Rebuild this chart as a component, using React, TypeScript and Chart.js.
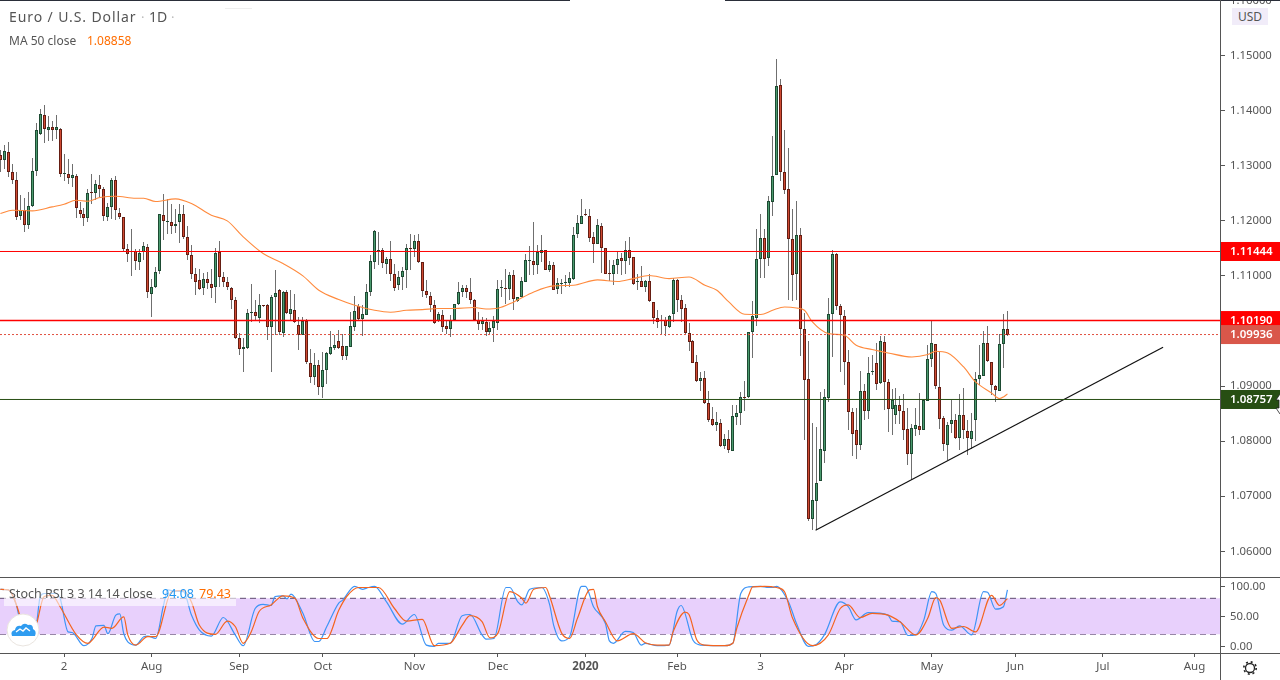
import { useEffect, useRef } from 'react'
import { Chart, registerables } from 'chart.js'

Chart.register(...registerables)

const FONT = '"Noto Sans", sans-serif'
const TEXT = '#555'

// daily candles, EUR/USD
const opens = [
  1.13192,1.13107,1.13246,1.12895,1.12750,1.12090,1.12205,1.11933,1.12272,1.12913,
  1.13585,1.13930,1.13652,1.13712,1.13652,1.13676,1.12859,1.12859,1.12780,1.12823,
  1.12205,1.12133,1.12060,1.12532,1.12514,1.12659,1.12587,1.12072,1.12260,1.12750,
  1.12151,1.12078,1.11491,1.11437,1.11455,1.11255,1.11443,1.11534,1.10674,1.10801,
  1.11098,1.12115,1.11994,1.11988,1.11909,1.11988,1.12133,1.11715,1.11388,1.11043,
  1.10934,1.10789,1.10953,1.10862,1.10801,1.11437,1.10983,1.10898,1.10789,1.10571,
  1.09881,1.09682,1.09694,1.10329,1.10353,1.10238,1.10481,1.10481,1.10075,1.10620,
  1.10753,1.09972,1.10717,1.10311,1.10390,1.10117,1.09936,1.10178,1.09427,1.09167,
  1.09391,1.08986,1.09300,1.09585,1.09694,1.09827,1.09724,1.09548,1.09712,1.10075,
  1.10450,1.10220,1.10293,1.10710,1.11255,1.11448,1.11479,1.11219,1.11315,1.11043,
  1.10837,1.10982,1.11110,1.11515,1.11491,1.11642,1.11261,1.10734,1.10644,1.10480,
  1.10178,1.10299,1.10087,1.10038,1.10196,1.10498,1.10710,1.10777,1.10716,1.10571,
  1.10196,1.10129,1.10172,1.09984,1.10063,1.10153,1.10777,1.10789,1.10765,1.11025,
  1.10541,1.10619,1.10892,1.11273,1.11279,1.11200,1.11418,1.11479,1.11104,1.11206,
  1.10765,1.10855,1.10874,1.10874,1.10952,1.11763,1.11951,1.12120,1.12096,1.11715,
  1.11582,1.11914,1.11515,1.11049,1.11037,1.11200,1.11333,1.11273,1.11479,1.11352,
  1.10892,1.10916,1.10801,1.10916,1.10535,1.10244,1.10190,1.10208,1.10075,1.10311,
  1.10922,1.10558,1.10426,1.09972,1.09827,1.09446,1.09093,1.09155,1.08701,1.08411,
  1.08295,1.08338,1.07913,1.08047,1.07823,1.08440,1.08520,1.08810,1.08803,1.09983,
  1.10244,1.11315,1.11697,1.11326,1.12343,1.12841,1.14462,1.12895,1.12586,1.11679,
  1.11043,1.11751,1.10045,1.09137,1.06588,1.06915,1.07278,1.07823,1.08785,1.10317,
  1.11394,1.10450,1.10281,1.09446,1.08538,1.08211,1.07931,1.08919,1.08549,1.09257,
  1.09427,1.09057,1.09809,1.09082,1.08585,1.08483,1.08665,1.08556,1.08229,1.07768,
  1.08222,1.08284,1.08204,1.08730,1.09500,1.09772,1.08992,1.08429,1.07931,1.08313,
  1.08393,1.08059,1.08483,1.08193,1.08040,1.08393,1.09137,1.09191,1.09790,1.09446,
  1.09010,1.08912,1.09772,1.10045,
]
const closes = [
  1.13113,1.13264,1.12895,1.12750,1.12072,1.12205,1.11933,1.12278,1.12913,1.13658,
  1.13948,1.13676,1.13712,1.13652,1.13712,1.12859,1.12877,1.12780,1.12841,1.12242,
  1.12133,1.12060,1.12514,1.12508,1.12677,1.12587,1.12090,1.12260,1.12750,1.12205,
  1.12072,1.11497,1.11407,1.11455,1.11273,1.11425,1.11552,1.10711,1.10807,1.11080,
  1.12133,1.12006,1.12006,1.11909,1.11951,1.12133,1.11715,1.11388,1.11043,1.10898,
  1.10771,1.10953,1.10880,1.10789,1.11425,1.10983,1.10898,1.10801,1.10571,1.09881,
  1.09682,1.09706,1.10335,1.10341,1.10275,1.10481,1.10469,1.10075,1.10626,1.10698,
  1.09984,1.10717,1.10335,1.10408,1.10172,1.09936,1.10178,1.09440,1.09167,1.09391,
  1.08986,1.09300,1.09609,1.09718,1.09754,1.09694,1.09548,1.09724,1.10087,1.10359,
  1.10220,1.10305,1.10716,1.11267,1.11812,1.11479,1.11237,1.11315,1.11043,1.10783,
  1.10982,1.11097,1.11515,1.11491,1.11630,1.11255,1.10728,1.10650,1.10474,1.10153,
  1.10317,1.10081,1.10038,1.10208,1.10498,1.10716,1.10777,1.10710,1.10559,1.10196,
  1.10129,1.10190,1.09984,1.10063,1.10190,1.10771,1.10801,1.10765,1.11025,1.10583,
  1.10625,1.10916,1.11285,1.11297,1.11200,1.11430,1.11479,1.11104,1.11194,1.10746,
  1.10880,1.10867,1.10886,1.10970,1.11751,1.11969,1.12096,1.12108,1.11697,1.11582,
  1.11933,1.11515,1.11043,1.11037,1.11206,1.11315,1.11273,1.11479,1.11327,1.10861,
  1.10916,1.10807,1.10916,1.10553,1.10238,1.10165,1.10202,1.10093,1.10280,1.10934,
  1.10571,1.10401,1.09965,1.09801,1.09427,1.09093,1.09155,1.08694,1.08385,1.08295,
  1.08356,1.07913,1.08047,1.07841,1.08465,1.08520,1.08810,1.08803,1.09990,1.10268,
  1.11315,1.11697,1.11308,1.12356,1.12822,1.14444,1.12888,1.12561,1.11671,1.11025,
  1.11751,1.10045,1.09119,1.06588,1.06940,1.07249,1.07866,1.08810,1.10317,1.11394,
  1.10455,1.10292,1.09438,1.08531,1.08131,1.07931,1.08919,1.08549,1.09246,1.09282,
  1.09039,1.09827,1.09075,1.08585,1.08743,1.08665,1.08549,1.08198,1.07768,1.08247,
  1.08302,1.08204,1.08743,1.09500,1.09790,1.09003,1.08411,1.07950,1.08302,1.08393,
  1.08059,1.08483,1.08204,1.08059,1.08193,1.09137,1.09210,1.09790,1.09457,1.09021,
  1.08925,1.09772,1.10045,1.09936,
]
const highs = [
  1.13295,1.13373,1.13434,1.13028,1.12883,1.12466,1.12423,1.12532,1.13150,1.13779,
  1.14039,1.14100,1.13900,1.13809,1.13918,1.13688,1.13210,1.13119,1.13028,1.12859,
  1.12339,1.12242,1.12587,1.12847,1.12750,1.12829,1.12617,1.12332,1.12786,1.12811,
  1.12242,1.12078,1.11588,1.11860,1.11497,1.11497,1.11618,1.11576,1.10953,1.11164,
  1.12133,1.12484,1.12405,1.12314,1.12224,1.12314,1.12284,1.11903,1.11570,1.11146,
  1.11134,1.11056,1.11074,1.11134,1.11515,1.11630,1.11074,1.10983,1.10801,1.10620,
  1.09972,1.09881,1.10396,1.10850,1.10571,1.10680,1.10481,1.10499,1.10650,1.11104,
  1.10771,1.10723,1.10741,1.10741,1.10680,1.10257,1.10257,1.10214,1.09682,1.09609,
  1.09482,1.09621,1.09621,1.09996,1.09924,1.10015,1.09954,1.09724,1.10347,1.10631,
  1.10498,1.10468,1.10861,1.11388,1.11830,1.11793,1.11515,1.11346,1.11630,1.11212,
  1.11085,1.11164,1.11588,1.11757,1.11739,1.11757,1.11261,1.10922,1.10710,1.10559,
  1.10347,1.10377,1.10196,1.10286,1.10498,1.10892,1.10831,1.10843,1.10970,1.10589,
  1.10347,1.10256,1.10244,1.10165,1.10268,1.10922,1.10934,1.11134,1.11073,1.11104,
  1.10625,1.10982,1.11406,1.11539,1.11987,1.11557,1.11739,1.11479,1.11273,1.11255,
  1.10964,1.10952,1.11013,1.11073,1.11890,1.12102,1.12393,1.12211,1.12223,1.11799,
  1.12042,1.11969,1.11515,1.11285,1.11285,1.11455,1.11424,1.11630,1.11709,1.11352,
  1.11043,1.11176,1.10934,1.11043,1.10535,1.10377,1.10286,1.10256,1.10286,1.10970,
  1.10952,1.10649,1.10499,1.10146,1.09832,1.09573,1.09257,1.09270,1.08906,1.08621,
  1.08531,1.08411,1.08138,1.08211,1.08652,1.08652,1.08894,1.09093,1.09990,1.10540,
  1.11848,1.12120,1.11860,1.12447,1.13536,1.14934,1.14571,1.13645,1.13318,1.12211,
  1.12356,1.11878,1.10322,1.09814,1.08325,1.08258,1.08894,1.08943,1.10595,1.11466,
  1.11417,1.10499,1.10377,1.09651,1.08598,1.08598,1.09270,1.09033,1.09529,1.09560,
  1.09783,1.09905,1.09905,1.09124,1.08943,1.08966,1.08816,1.08865,1.08611,1.08307,
  1.08611,1.08883,1.08756,1.09742,1.10195,1.09772,1.09620,1.08453,1.08349,1.08756,
  1.08502,1.08865,1.08974,1.08380,1.08520,1.09257,1.09742,1.10001,1.10086,1.09446,
  1.09021,1.09954,1.10304,1.10364,
]
const lows = [
  1.12889,1.12950,1.12798,1.12665,1.12012,1.12012,1.11800,1.11860,1.12254,1.12817,
  1.13567,1.13416,1.13452,1.13452,1.13482,1.12798,1.12726,1.12665,1.12617,1.12060,
  1.12054,1.11909,1.11981,1.12314,1.12375,1.12435,1.11994,1.11994,1.12042,1.12024,
  1.12042,1.11455,1.11255,1.11001,1.11104,1.11104,1.11298,1.10602,1.10257,1.10789,
  1.11043,1.11649,1.11758,1.11770,1.11782,1.11600,1.11679,1.11298,1.10953,1.10650,
  1.10741,1.10650,1.10771,1.10608,1.10511,1.10801,1.10801,1.10741,1.10408,1.09863,
  1.09561,1.09258,1.09670,1.10166,1.10184,1.10154,1.10438,1.09833,1.09258,1.09924,
  1.09924,1.09894,1.10317,1.10196,1.10154,1.09651,1.09924,1.09409,1.09064,1.09016,
  1.08834,1.08786,1.09046,1.09561,1.09651,1.09682,1.09469,1.09469,1.09712,1.10002,
  1.10196,1.09911,1.10293,1.10631,1.11122,1.11194,1.11152,1.11043,1.10910,1.10728,
  1.10740,1.10740,1.10783,1.11104,1.11346,1.11237,1.10619,1.10607,1.10347,1.10135,
  1.10159,1.09984,1.09942,1.09893,1.10196,1.10468,1.10619,1.10607,1.10498,1.10184,
  1.10014,1.10014,1.09911,1.09954,1.09802,1.10026,1.10619,1.10498,1.10559,1.10377,
  1.10529,1.10619,1.10892,1.11013,1.11013,1.11043,1.11255,1.11104,1.11073,1.10740,
  1.10680,1.10668,1.10801,1.10801,1.10922,1.11691,1.11951,1.12096,1.11618,1.11237,
  1.11576,1.11055,1.11031,1.10910,1.10831,1.11043,1.11013,1.11043,1.11194,1.10843,
  1.10753,1.10801,1.10710,1.10529,1.10135,1.10063,1.09954,1.09911,1.10056,1.10165,
  1.10347,1.10159,1.09954,1.09633,1.09420,1.09075,1.08912,1.08670,1.08349,1.08271,
  1.08186,1.07895,1.07866,1.07786,1.07823,1.08289,1.08289,1.08549,1.08785,1.09511,
  1.10087,1.10958,1.10958,1.11176,1.12089,1.12841,1.12724,1.12483,1.10558,1.10540,
  1.10558,1.09547,1.08017,1.06546,1.06383,1.06383,1.07278,1.07605,1.08712,1.09529,
  1.10377,1.09257,1.09015,1.08198,1.07732,1.07672,1.07835,1.08380,1.08398,1.09197,
  1.08937,1.09046,1.08561,1.08168,1.08108,1.08320,1.08320,1.08017,1.07563,1.07291,
  1.08095,1.08108,1.08204,1.08730,1.09347,1.08955,1.08229,1.07823,1.07654,1.08149,
  1.08048,1.07835,1.08048,1.07744,1.07866,1.08004,1.09015,1.09179,1.09446,1.08834,
  1.08712,1.08912,1.09329,1.09910,
]

const maIndex = [
  0,3,8,13,16,19,22,25,29,34,36,39,44,48,53,57,61,66,71,76,80,85,89,94,98,102,106,110,114,119,122,125,129,134,
  139,144,150,155,159,163,168,173,177,180,183,187,191,194,197,200,202,204,208,212,215,219,223,229,233,235,238,
  242,245,249,251,252,253,
]
const maValues = [
  1.12133,1.12193,1.12181,1.12254,1.12302,1.12375,1.12357,1.12423,1.12447,1.12411,1.12411,1.12351,1.12399,1.12314,
  1.12102,1.12000,1.11709,1.11406,1.11225,1.11001,1.10741,1.10571,1.10468,1.10377,1.10341,1.10377,1.10389,1.10408,
  1.10408,1.10426,1.10401,1.10414,1.10529,1.10710,1.10819,1.10831,1.10928,1.10898,1.10952,1.11007,1.10952,1.10981,
  1.10831,1.10740,1.10528,1.10304,1.10299,1.10377,1.10437,1.10419,1.10377,1.10164,1.09954,1.09923,1.09742,1.09663,
  1.09602,1.09529,1.09573,1.09633,1.09602,1.09347,1.09075,1.08876,1.08774,1.08803,1.08858,
]

// Stoch RSI
const kIndex = [
  0,2,4,5,7,9,10,11,14,15,17,18,21,23,24,26,27,29,30,31,33,34,36,37,39,41,42,44,46,48,50,53,56,59,61,64,66,68,69,
  71,72,73,76,79,80,82,85,86,89,91,92,94,97,101,104,107,109,110,113,116,118,121,122,124,127,128,130,131,133,136,
  138,139,141,143,146,147,149,152,153,154,157,159,161,162,165,168,170,171,174,176,182,184,186,188,191,193,194,195,
  198,200,203,205,207,211,213,215,218,223,224,226,228,230,232,234,235,237,239,241,244,247,248,250,252,253,
]
const kValues = [
  95,94,69,41,20,35,83,88,88,80,24,23,1,13,34,35,21,52,54,21,3,2,16,17,13,69,94,92,91,52,27,17,48,19,1,63,70,68,83,
  84,79,87,55,8,8,33,72,77,100,95,97,100,74,37,53,2,0,5,5,51,53,19,12,13,98,98,74,69,95,98,
  69,35,9,16,100,100,66,38,9,5,25,23,2,5,1,2,58,68,10,2,1,5,88,99,100,98,98,100,
  74,38,0,3,19,74,66,44,56,52,42,41,18,19,44,91,88,35,27,34,19,91,90,62,66,94.08,
]
const dIndex = [
  0,2,5,6,8,9,11,13,15,19,22,23,26,28,31,32,34,37,39,43,46,48,50,54,57,59,61,63,65,68,71,74,76,80,82,85,87,90,95,
  99,102,106,109,113,116,118,121,123,125,128,131,132,134,137,138,141,143,145,148,149,150,152,155,159,162,165,168,
  169,172,173,175,177,182,184,185,188,189,192,195,197,199,204,208,211,213,216,219,223,226,230,233,235,236,239,242,
  245,249,251,253,
]
const dValues = [
  95,94,49,21,17,35,83,85,66,20,5,10,32,30,49,19,2,16,16,91,93,74,35,20,42,33,5,24,58,69,84,80,47,13,13,60,83,98,98,
  63,42,45,1,5,35,51,41,14,22,91,80,72,95,98,83,22,13,47,94,95,66,41,9,21,6,2,2,
  24,57,53,10,2,1,5,30,85,99,100,98,91,47,1,19,63,69,48,55,52,41,19,47,81,77,30,33,
  24,85,68,79.43,
]

const priceTicks = [1.06,1.07,1.08,1.09,1.10,1.11,1.12,1.13,1.14,1.15,1.16]
const stochTicks = [0,50,100]

// bar numbers where a month starts on the time axis (future ones past the last candle)
const timeTicks = [16,38,60,81,104,125,147,170,191,212,234,255,277,300]
const timeLabels = ['2','Aug','Sep','Oct','Nov','Dec','2020','Feb','3','Apr','May','Jun','Jul','Aug']

const resistance = 1.11444
const pivot = 1.1019
const support = 1.08757
const lastPrice = 1.09936
const trendIndex = [204.8, 292.1]
const trendValues = [1.06383, 1.09705]
const bandHigh = 80
const bandLow = 20

const X_MIN = -0.1
const X_MAX = 306.4

const flat = (y: number) => [{ x: X_MIN, y }, { x: X_MAX, y }]
const pairs = (xs: number[], ys: number[]) => xs.map((x, i) => ({ x, y: ys[i] }))

// keep the candles on whole pixels, otherwise the 1px wicks go blurry
const snapBars = {
  id: 'snapBars',
  beforeDatasetsDraw(chart: any) {
    chart.data.datasets.forEach((ds: any, i: number) => {
      if (ds.type !== 'bar') return
      chart.getDatasetMeta(i).data.forEach((el: any) => {
        el.x = Math.floor(el.x) + 0.5
        el.y = Math.round(el.y)
        el.base = Math.round(el.base)
        if (el.y === el.base) el.base += 1
      })
    })
  },
}

const priceTags = {
  id: 'priceTags',
  afterDraw(chart: any) {
    const { ctx, scales, chartArea } = chart
    const tags = [
      [resistance, '#ff0000'],
      [pivot, '#ff0000'],
      [lastPrice, '#d9574a'],
      [support, '#274e13'],
    ] as [number, string][]
    ctx.save()
    ctx.font = `600 11.5px ${FONT}`
    ctx.textBaseline = 'middle'
    ctx.textAlign = 'left'
    tags.forEach(([value, color]) => {
      const y = scales.y.getPixelForValue(value)
      ctx.fillStyle = color
      ctx.fillRect(chartArea.right + 1, y - 9.5, 60, 19)
      ctx.fillStyle = '#fff'
      ctx.fillText(value.toFixed(5), chartArea.right + 10, y)
    })
    ctx.restore()
  },
}

const axisTicks = {
  color: TEXT,
  padding: 5,
  autoSkip: false,
  maxRotation: 0,
  font: { family: FONT, size: 11.3 },
}

// no room reserved for half-labels at the pane edges, the panes run edge to edge
const noPadding = (scale: any) => {
  scale.paddingTop = 0
  scale.paddingBottom = 0
  scale.paddingLeft = 0
  scale.paddingRight = 0
}

function lineDataset(data: any[], color: string, width: number, extra: any = {}) {
  return {
    type: 'line',
    data,
    borderColor: color,
    borderWidth: width,
    pointRadius: 0,
    fill: false,
    ...extra,
  }
}

export default function App() {
  const priceRef = useRef<HTMLCanvasElement>(null)
  const stochRef = useRef<HTMLCanvasElement>(null)

  useEffect(() => {
    const up = closes.map((c, i) => c >= opens[i])

    const priceChart = new Chart(priceRef.current!, {
      type: 'bar',
      data: {
        datasets: [
          lineDataset(flat(resistance), '#ff0000', 1, { order: 1 }),
          lineDataset(flat(pivot), '#ff0000', 1.4, { order: 1 }),
          lineDataset(flat(support), '#274e13', 1, { order: 1 }),
          lineDataset(flat(lastPrice), '#e0503f', 1, { order: 1, borderDash: [2, 2] }),
          lineDataset(pairs(trendIndex, trendValues), '#111', 1.2, { order: 1 }),
          lineDataset(pairs(maIndex, maValues), '#ff8a3d', 1.1, { order: 2, cubicInterpolationMode: 'monotone' }),
          {
            type: 'bar',
            order: 3,
            data: opens.map((o, i) => ({ x: i, y: [o, closes[i]] })),
            backgroundColor: up.map(u => (u ? '#4a9a6e' : '#cf4a33')),
            borderColor: up.map(u => (u ? '#1d4a32' : '#651d12')),
            borderWidth: 1,
            borderSkipped: false,
            barThickness: 3,
            inflateAmount: 0,
            grouped: false,
          },
          {
            type: 'bar',
            order: 4,
            data: lows.map((l, i) => ({ x: i, y: [l, highs[i]] })),
            backgroundColor: '#6f6f6f',
            borderWidth: 0,
            barThickness: 1,
            inflateAmount: 0,
            grouped: false,
          },
        ],
      } as any,
      options: {
        animation: false,
        responsive: false,
        devicePixelRatio: 1,
        events: [],
        layout: { padding: 0 },
        plugins: { legend: { display: false }, tooltip: { enabled: false } },
        scales: {
          x: { type: 'linear', display: false, min: X_MIN, max: X_MAX, offset: false, grid: { offset: false } },
          y: {
            position: 'right',
            min: 1.05534,
            max: 1.1601,
            beginAtZero: false,
            border: { display: false },
            grid: { drawOnChartArea: false, tickLength: 5, tickColor: TEXT },
            ticks: { ...axisTicks, callback: (v: any) => Number(v).toFixed(5) },
            afterBuildTicks: (scale: any) => { scale.ticks = priceTicks.map(value => ({ value })) },
            afterFit: (scale: any) => { scale.width = 60; noPadding(scale) },
          },
        },
      } as any,
      plugins: [snapBars, priceTags],
    })

    const stochChart = new Chart(stochRef.current!, {
      type: 'line',
      data: {
        datasets: [
          lineDataset(pairs(dIndex, dValues), '#f4641f', 1.2, { order: 1, cubicInterpolationMode: 'monotone' }),
          lineDataset(pairs(kIndex, kValues), '#3d94f6', 1.2, { order: 2, cubicInterpolationMode: 'monotone' }),
          lineDataset(flat(bandHigh), '#5d4a6e', 1, {
            order: 3,
            borderDash: [6, 4],
            fill: '+1',
            backgroundColor: '#e8d0fc',
          }),
          lineDataset(flat(bandLow), '#5d4a6e', 1, { order: 3, borderDash: [6, 4] }),
        ],
      } as any,
      options: {
        animation: false,
        responsive: false,
        devicePixelRatio: 1,
        events: [],
        layout: { padding: 0 },
        plugins: { legend: { display: false }, tooltip: { enabled: false } },
        scales: {
          x: {
            type: 'linear',
            min: X_MIN,
            max: X_MAX,
            border: { display: false },
            grid: { drawOnChartArea: false, tickLength: 4, tickColor: TEXT },
            ticks: {
              ...axisTicks,
              padding: 3,
              font: (ctx: any) => ({
                family: FONT,
                size: 11.5,
                weight: ctx.tick && timeLabels[timeTicks.indexOf(ctx.tick.value)] === '2020' ? 'bold' : 'normal',
              }),
              callback: (v: any) => timeLabels[timeTicks.indexOf(v)],
            },
            afterBuildTicks: (scale: any) => { scale.ticks = timeTicks.map(value => ({ value })) },
            afterFit: (scale: any) => { scale.height = 27; noPadding(scale) },
          },
          y: {
            position: 'right',
            min: -11.17,
            max: 115.5,
            border: { display: false },
            grid: { drawOnChartArea: false, tickLength: 5, tickColor: TEXT },
            ticks: { ...axisTicks, callback: (v: any) => Number(v).toFixed(2) },
            afterBuildTicks: (scale: any) => { scale.ticks = stochTicks.map(value => ({ value })) },
            afterFit: (scale: any) => { scale.width = 60; noPadding(scale) },
          },
        },
      } as any,
    })

    return () => {
      priceChart.destroy()
      stochChart.destroy()
    }
  }, [])

  const label = (left: number, centerY: number, size: number, color: string, text: string, extra: any = {}) => (
    <div
      style={{
        position: 'absolute',
        left,
        top: centerY - 10,
        height: 20,
        lineHeight: '20px',
        fontSize: size,
        fontFamily: FONT,
        color,
        whiteSpace: 'nowrap',
        ...extra,
      }}
    >
      {text}
    </div>
  )
  const rule = (left: number, top: number, width: number, height: number, background: string) => (
    <div style={{ position: 'absolute', left, top, width, height, background }} />
  )

  return (
    <div style={{ position: 'fixed', left: 0, top: 0, width: 1280, height: 680, background: '#fff', overflow: 'hidden' }}>
      <canvas ref={priceRef} width={1280} height={577} style={{ position: 'absolute', left: 0, top: 0, display: 'block' }} />
      <canvas ref={stochRef} width={1280} height={103} style={{ position: 'absolute', left: 0, top: 577, display: 'block' }} />

      {rule(0, 0, 570, 1, '#2a2e39')}
      {rule(725, 0, 555, 1, '#2a2e39')}
      {rule(0, 577, 1280, 1, '#555')}
      {rule(0, 653, 1280, 1, '#555')}
      {rule(1220, 0, 1, 680, '#555')}
      {rule(225, 8, 27, 1, '#eee')}

      {label(9, 17, 14, TEXT, 'Euro / U.S. Dollar', { letterSpacing: 0.9 })}
      {label(141, 17, 13, '#bbb', '·')}
      {label(149, 17, 14, TEXT, '1D')}
      {label(171, 17, 13, '#bbb', '·')}
      {label(9, 41, 12, TEXT, 'MA 50 close')}
      {label(87, 41, 12, '#ff6d00', '1.08858')}

      <div style={{ position: 'absolute', left: 1232, top: 8, width: 36, height: 17, background: '#f1ecf9', textAlign: 'center', lineHeight: '17px', fontSize: 12, fontFamily: FONT, color: TEXT }}>
        USD
      </div>

      <div style={{ position: 'absolute', left: 4, top: 586, width: 232, height: 20, background: 'rgba(255,255,255,0.6)' }} />
      {label(9, 594, 12.5, TEXT, 'Stoch RSI 3 3 14 14 close')}
      {label(162, 594, 12.5, '#2196f3', '94.08')}
      {label(199, 594, 12.5, '#ff6d00', '79.43')}

      {/* logo */}
      <svg width={36} height={36} style={{ position: 'absolute', left: 5, top: 612 }}>
        <circle cx={18} cy={18} r={16} fill="#fff" stroke="#e9e4df" strokeWidth={1} />
        <path d="M7 24 q-2 -5 3 -6 q1 -5 6 -4 q3 -4 7 -1 q5 -1 5 4 q4 2 2 7 z" fill="#2f9cf0" />
        <path d="M11 20 l4 -3 l3 2 l3 -3 l4 3" fill="none" stroke="#fff" strokeWidth={1.4} />
      </svg>

      {/* settings gear */}
      <svg width={16} height={16} style={{ position: 'absolute', left: 1242, top: 660 }}>
        <circle cx={8} cy={8} r={4.5} fill="none" stroke="#222" strokeWidth={1.3} />
        <circle cx={8} cy={8} r={6.2} fill="none" stroke="#222" strokeWidth={1.6} strokeDasharray="2 2.87" />
      </svg>

      {/* mouse pointer left on the axis */}
      <svg width={6} height={22} style={{ position: 'absolute', left: 1275, top: 394 }}>
        <path d="M5 0 L1 6 L4 6 L4 14 L1 14 L5 20 L6 20 L6 0 z" fill="#fff" stroke="#222" strokeWidth={0.8} />
      </svg>
    </div>
  )
}
